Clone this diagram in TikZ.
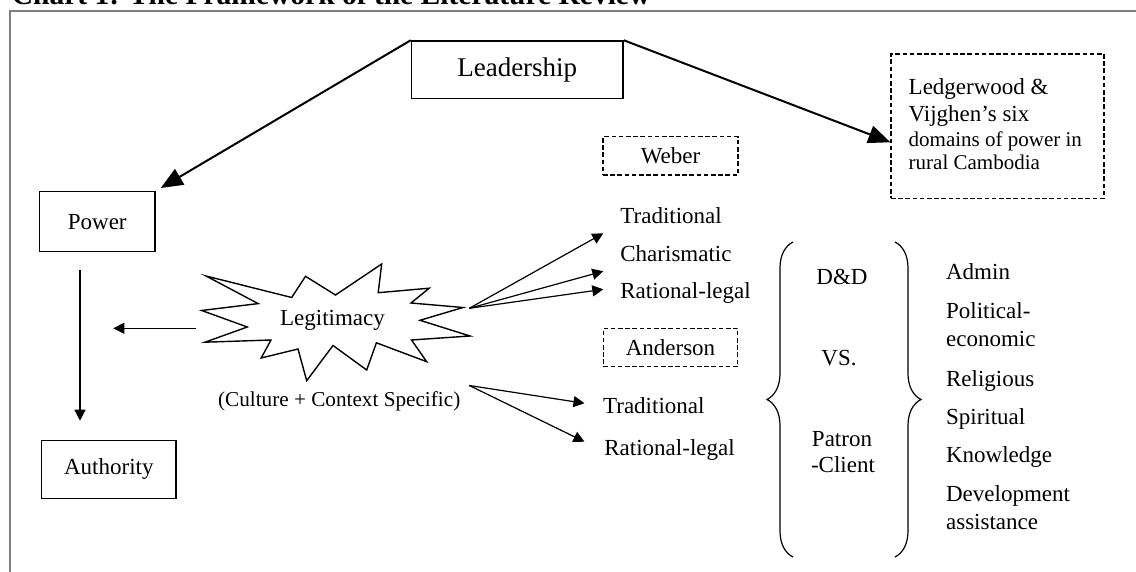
\documentclass[tikz,border=0pt]{standalone}
\usepackage{fontspec}
\setmainfont{Liberation Serif}
\usetikzlibrary{arrows.meta,decorations.pathreplacing,calc}
\definecolor{framegray}{HTML}{7F7F7F}
\begin{document}
\begin{tikzpicture}[x=0.5pt,y=-0.5pt,
  txt/.style={inner sep=0pt, font=\fontsize{11.5}{13.8}\selectfont},
  solidbox/.style={draw, line width=0.75pt, inner sep=0pt, font=\fontsize{11.5}{13.8}\selectfont},
  dashbox/.style={draw, line width=0.6pt, dash pattern=on 2.3pt off 1.3pt, inner sep=0pt, font=\fontsize{11.5}{13.8}\selectfont},
  bigarrow/.style={line width=1pt, -{Triangle[length=11pt,width=9pt]}},
  smallarrow/.style={line width=0.6pt, -{Triangle[length=5.5pt,width=5.5pt]}},
  bracestyle/.style={decorate, decoration={brace,amplitude=13pt}, line width=0.6pt}]

\useasboundingbox (0,0) rectangle (1136,572);

% frame and title
\draw[framegray, line width=1pt] (9.5,580) -- (9.5,11) -- (1145,11);
\node[anchor=base west, inner sep=0pt, font=\bfseries\fontsize{14.75}{17}\selectfont] (title) at (11.5,5) {Chart 1: The Framework of the Literature Review};

% boxes
\node[solidbox, minimum width=105.75pt, minimum height=28.75pt, font=\fontsize{13.5}{16}\selectfont] (lead) at (517.25,69.75) {Leadership};
\node[solidbox, minimum width=57.75pt, minimum height=30pt] (pow) at (97.25,221.7) {Power};
\node[solidbox, minimum width=67.15pt, minimum height=28.8pt] (auth) at (108.85,469.5) {Authority};
\node[dashbox, minimum width=106.5pt, minimum height=72.25pt] (led) at (997.5,126.25) {};
\node[dashbox, minimum width=67.5pt, minimum height=19.15pt] (web) at (670.5,155.85) {Weber};
\node[dashbox, minimum width=67.2pt, minimum height=19.2pt] (and) at (670.5,347.5) {Anderson};

% Ledgerwood text
\node[txt, anchor=base west] (l1) at (908.3,95) {Ledgerwood \&};
\node[txt, anchor=base west] (l2) at (908.3,121.7) {Vijghen’s six};
\node[txt, anchor=base west, font=\fontsize{10.5}{12.6}\selectfont] (l3) at (908.3,146.7) {domains of power in};
\node[txt, anchor=base west, font=\fontsize{10.5}{12.6}\selectfont] (l4) at (908.3,170) {rural Cambodia};

% big arrows
\draw[bigarrow, shorten >=2.9pt] (lead.north west) -- (pow.north east);
\draw[bigarrow] (lead.north east) -- ($(led.north west)!0.61!(led.south west)$);

% power -> authority, legitimacy -> left
\coordinate (pa1) at (80,270);
\coordinate (pa2) at (80,420.7);
\draw[smallarrow] (pa1) -- (pa2);
\coordinate (lg1) at (196,328.3);
\coordinate (lg2) at (113.3,328.3);
\draw[smallarrow] (lg1) -- (lg2);

% star
\draw[line width=0.7pt] (206,276) -- (291.7,297.5) -- (305.5,276.3) -- (335.5,295) -- (381.7,264) -- (378.2,292.7) -- (429.2,288.2) -- (411,303) -- (463,307.5) -- (420,320.3) -- (470,336) -- (411.5,340) -- (426.7,361.7) -- (376.4,342.8) -- (366.7,370) -- (333,345.5) -- (306.7,380.7) -- (298,349) -- (261.2,358) -- (271,340) -- (205,342.2) -- (247.3,327) -- (201.7,310.5) -- (258.2,303.6) -- cycle;
\node[txt, anchor=base] (leg) at (332.5,326) {Legitimacy};
\node[txt, anchor=base, font=\fontsize{10.6}{12.7}\selectfont] (cul) at (339.2,406.7) {(Culture + Context Specific)};

% Weber arrows and texts
\coordinate (us) at (469.3,308.3);
\coordinate (ut1) at (603.3,233.3);
\coordinate (ut2) at (603.3,271.2);
\coordinate (ut3) at (603.3,289.3);
\draw[smallarrow] (us) -- (ut1);
\draw[smallarrow] (us) -- (ut2);
\draw[smallarrow] (us) -- (ut3);
\node[txt, anchor=base west] (wt) at (620,224) {Traditional};
\node[txt, anchor=base west] (wc) at (620,261.7) {Charismatic};
\node[txt, anchor=base west] (wr) at (620,298.3) {Rational-legal};

% Anderson arrows and texts
\coordinate (ls) at (469.3,385.5);
\coordinate (lt1) at (584.5,403.3);
\coordinate (lt2) at (584.5,441.7);
\draw[smallarrow] (ls) -- (lt1);
\draw[smallarrow] (ls) -- (lt2);
\node[txt, anchor=base west] (at) at (602.7,413.3) {Traditional};
\node[txt, anchor=base west] (ar) at (604,455) {Rational-legal};

% braces
\coordinate (lb1) at (793,557);
\coordinate (lb2) at (793,242);
\draw[bracestyle] (lb1) -- (lb2);
\coordinate (rb1) at (895,242);
\coordinate (rb2) at (895,557);
\draw[bracestyle] (rb1) -- (rb2);

\node[txt, anchor=base] (dd) at (842,285) {D\&D};
\node[txt, anchor=base] (vs) at (839,365) {VS.};
\node[txt, anchor=base] (pt) at (842,446.7) {Patron};
\node[txt, anchor=base] (cl) at (843,472.7) {-Client};

% domains list
\node[txt, anchor=base west] (d1) at (945.7,279.5) {Admin};
\node[txt, anchor=base west] (d2) at (945.7,318.5) {Political-};
\node[txt, anchor=base west] (d2b) at (945.7,346.5) {economic};
\node[txt, anchor=base west] (d3) at (945.7,386.5) {Religious};
\node[txt, anchor=base west] (d4) at (945.7,424.5) {Spiritual};
\node[txt, anchor=base west] (d5) at (945.7,462.5) {Knowledge};
\node[txt, anchor=base west] (d6) at (945.7,501.5) {Development};
\node[txt, anchor=base west] (d6b) at (945.7,529.5) {assistance};
\end{tikzpicture}
\end{document}
